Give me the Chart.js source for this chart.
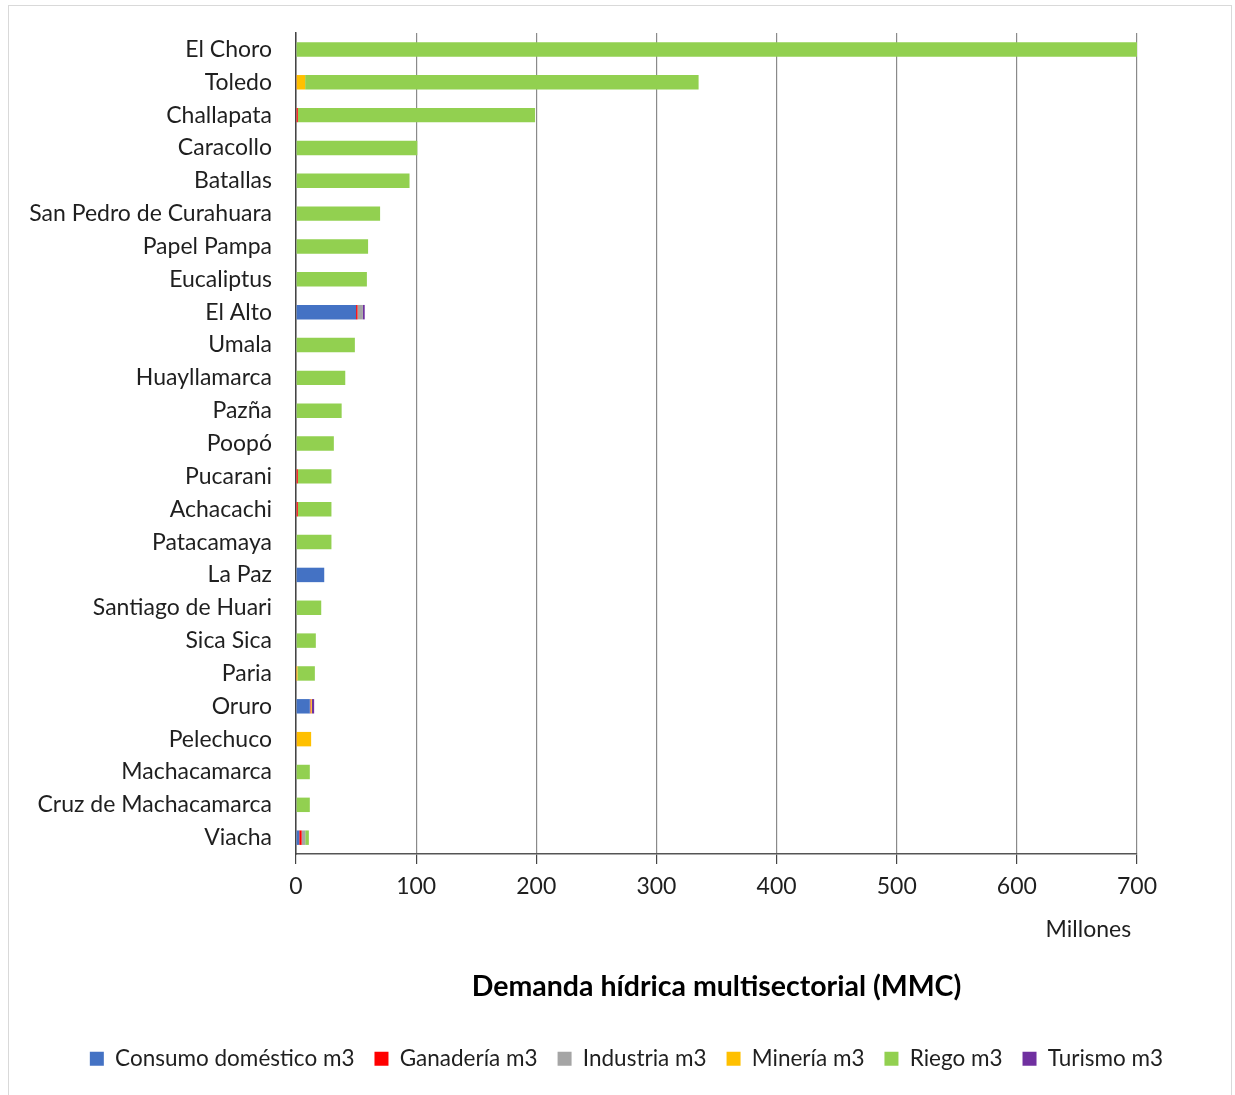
<!DOCTYPE html>
<html>
<head>
<meta charset="utf-8">
<script src="https://cdn.jsdelivr.net/npm/chart.js@4/dist/chart.umd.min.js"></script>
<style>
  html, body { margin: 0; padding: 0; background: #fff; }
  #wrap { position: relative; width: 1235px; height: 1095px; }
  #frame { position: absolute; left: 8px; top: 5px; width: 1224px; height: 1092px;
           border: 1.5px solid #d9d9d9; box-sizing: border-box; pointer-events: none; }
  canvas { position: absolute; left: 0; top: 0; }
</style>
</head>
<body>
<div id="wrap">
  <canvas id="chart" width="1235" height="1095"></canvas>
  <div id="frame"></div>
</div>
<script>
// Municipios, ordenados de mayor a menor demanda total (millones de m3)
const municipios = [
  'El Choro', 'Toledo', 'Challapata', 'Caracollo', 'Batallas',
  'San Pedro de Curahuara', 'Papel Pampa', 'Eucaliptus', 'El Alto', 'Umala',
  'Huayllamarca', 'Pazña', 'Poopó', 'Pucarani', 'Achacachi',
  'Patacamaya', 'La Paz', 'Santiago de Huari', 'Sica Sica', 'Paria',
  'Oruro', 'Pelechuco', 'Machacamarca', 'Cruz de Machacamarca', 'Viacha'
];

// Demanda por sector (millones de m3)
const consumoDomestico = [0, 0, 0, 0, 0, 0, 0, 0, 50, 0, 0, 0, 0, 0, 0, 0, 23.5, 0, 0, 0, 11.5, 0, 0, 0, 2.7];
const ganaderia        = [0, 0.6, 1.5, 0, 0, 0, 0, 0, 1.2, 0, 0, 0, 0, 1.5, 1.5, 0, 0, 0, 0, 0.4, 0.5, 0.6, 0, 0, 2];
const industria        = [0, 0, 0, 0, 0, 0, 0, 0, 4.5, 0, 0, 0, 0, 0, 0, 0, 0, 0, 0, 0, 0.3, 0, 0, 0, 3];
const mineria          = [0, 7, 0, 0, 0, 0, 0, 0, 0, 0, 0, 0, 0, 0, 0, 0, 0, 0, 0, 0.8, 0.8, 12, 0, 0, 0];
const riego            = [700, 327.5, 197.5, 101, 94.5, 70, 60, 59, 0, 49, 41, 38, 31.5, 28, 28, 29.5, 0, 21, 16.5, 14.5, 0, 0, 11.5, 11.5, 3];
const turismo          = [0, 0, 0, 0, 0, 0, 0, 0, 1.5, 0, 0, 0, 0, 0, 0, 0, 0, 0, 0, 0, 2, 0, 0, 0, 0];

const xTicks = [0, 100, 200, 300, 400, 500, 600, 700];

const FONT = 'Lato, "Open Sans", sans-serif';
const TEXT = '#1f1f1f';

function serie(label, data, color) {
  return {
    label, data,
    backgroundColor: color,
    borderWidth: 0,
    barPercentage: 0.44,
    categoryPercentage: 1.0
  };
}

new Chart(document.getElementById('chart'), {
  type: 'bar',
  data: {
    labels: municipios,
    datasets: [
      serie('Consumo doméstico m3', consumoDomestico, '#4472C4'),
      serie('Ganadería m3', ganaderia, '#FF0000'),
      serie('Industria m3', industria, '#A5A5A5'),
      serie('Minería m3', mineria, '#FFC000'),
      serie('Riego m3', riego, '#92D050'),
      serie('Turismo m3', turismo, '#7030A0')
    ]
  },
  options: {
    indexAxis: 'y',
    responsive: false,
    animation: false,
    devicePixelRatio: 1,
    layout: { padding: { left: 18, right: 0, top: 33, bottom: 15 } },
    scales: {
      x: {
        stacked: true,
        min: 0,
        max: 700,
        afterBuildTicks: (scale) => { scale.ticks = xTicks.map(v => ({ value: v })); },
        afterFit: (scale) => { scale.paddingRight = 98; },
        grid: {
          color: '#8a8a8a',
          lineWidth: 1.2,
          tickColor: '#444',
          tickLength: 10,
          drawTicks: true
        },
        border: { display: true, color: '#555', width: 1.5 },
        ticks: {
          color: TEXT,
          font: { family: FONT, size: 23 },
          padding: 9,
          maxRotation: 0
        },
        title: {
          display: true,
          text: 'Millones ',
          align: 'end',
          color: TEXT,
          font: { family: FONT, size: 23 },
          padding: { top: 6, bottom: 0 }
        }
      },
      y: {
        stacked: true,
        afterFit: (scale) => {
          scale.width = 278;
          scale.paddingTop = 0;
          scale.paddingBottom = 0;
        },
        grid: { display: false, drawTicks: false },
        border: { display: true, color: '#444', width: 1.5 },
        ticks: {
          color: TEXT,
          font: { family: FONT, size: 23 },
          padding: 24,
          autoSkip: false
        }
      }
    },
    plugins: {
      title: {
        display: true,
        position: 'bottom',
        fullSize: false,
        weight: 500,
        text: 'Demanda hídrica multisectorial (MMC)',
        color: '#000',
        font: { family: FONT, size: 28.5, weight: 'bold' },
        padding: { top: 26, bottom: 24 }
      },
      legend: {
        position: 'bottom',
        weight: 1000,
        labels: {
          color: TEXT,
          font: { family: FONT, size: 22.5 },
          boxWidth: 14,
          boxHeight: 14,
          padding: 20
        }
      },
      tooltip: { enabled: false }
    }
  }
});
</script>
</body>
</html>
